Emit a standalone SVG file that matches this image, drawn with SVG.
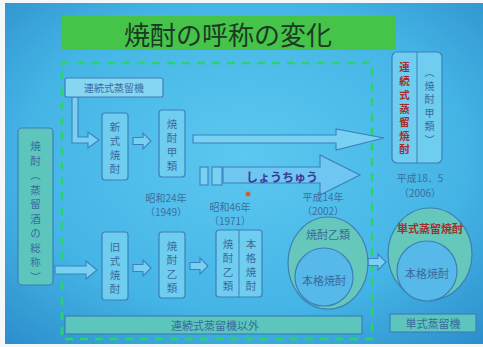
<svg xmlns="http://www.w3.org/2000/svg" width="483" height="347" viewBox="0 0 483 347">
<defs>
<radialGradient id="bg" cx="0.5" cy="0.45" r="0.75">
<stop offset="0" stop-color="#5cc8f0"/>
<stop offset="0.6" stop-color="#45b5e6"/>
<stop offset="1" stop-color="#2b8dcb"/>
</radialGradient>
<style>
text{font-family:"Noto Sans CJK JP","Noto Sans",sans-serif;}
.box{fill:#6fcdf0;stroke:#3d7fb9;stroke-width:1.2;}
.teal{fill:#5cc6bc;stroke:#3d7fb9;stroke-width:1.2;}
.arr{fill:#78d0f2;stroke:#3d80bb;stroke-width:1.1;stroke-linejoin:miter;}
.t{fill:#3a6a9c;font-size:11px;text-anchor:middle;dominant-baseline:central;}
.c{fill:#3a6a9c;font-size:10.5px;text-anchor:middle;dominant-baseline:central;}
.yr{fill:#3f6e9e;font-size:10px;text-anchor:middle;dominant-baseline:central;}
.red{fill:#a03030;font-size:11px;font-weight:bold;text-anchor:middle;dominant-baseline:central;}
.rc{fill:#a03030;font-size:10.5px;font-weight:bold;text-anchor:middle;dominant-baseline:central;}
.dash{fill:none;stroke:#29d56a;stroke-width:2.5;stroke-dasharray:8 7;}
</style>
</defs>
<rect x="0" y="0" width="483" height="347" fill="#f4f8fa"/>
<rect x="5" y="3" width="478" height="341" fill="url(#bg)"/>

<g id="title">
<rect x="62" y="16" width="334" height="34" fill="#46c44a"/>
<text x="228" y="33" font-size="26" fill="#1b3a24" text-anchor="middle" dominant-baseline="central">焼酎の呼称の変化</text>
</g>

<rect class="dash" x="62" y="63" width="310" height="276"/>

<g id="connectors">
<polygon class="arr" points="72,97 78,97 78,137 88,137 88,132 99,140 88,148 88,143 72,143"/>
<polygon class="arr" points="133,137.5 143,137.5 143,133 151,141 143,149 143,144.5 133,144.5"/>
<polygon class="arr" points="193,135 336,135 336,129 384,138 336,150 336,143 193,143"/>
<polygon class="arr" points="55,266 86,266 86,261 97,270 86,279 86,274 55,274"/>
<polygon class="arr" points="133,264.5 143,264.5 143,260 151,268 143,276 143,271.5 133,271.5"/>
<polygon class="arr" points="190,262.5 200,262.5 200,258 208,266 200,274 200,269.5 190,269.5"/>
<polygon class="arr" points="368,258.5 378,258.5 378,254 386,262 378,270 378,265.5 368,265.5"/>
<rect class="arr" x="200" y="167" width="8" height="18"/>
<rect class="arr" x="212" y="167" width="10" height="18"/>
<polygon points="223,167 320,167 320,155 360,175 320,195 320,183 223,183" fill="#6fc6f0" stroke="#3d80bb" stroke-width="1.1"/>
<text x="282" y="176" font-size="12" font-weight="bold" fill="#3a3a9e" text-anchor="middle" dominant-baseline="central">しょうちゅう</text>
<circle cx="248" cy="194" r="2.5" fill="#d0603a"/>
</g>

<g id="renzoku-ki">
<rect class="box" x="65" y="78" width="98" height="19" rx="2" style="fill:#86d6f2"/>
<text class="t" x="114" y="87.5" style="font-size:10px">連続式蒸留機</text>
</g>

<g id="shochu-all">
<rect class="teal" x="18" y="128" width="35" height="157" rx="4"/>
<text class="c"><tspan x="35.5" y="145">焼</tspan><tspan x="35.5" y="159.5">酎</tspan><tspan x="35.5" y="174">︵</tspan><tspan x="35.5" y="188.5">蒸</tspan><tspan x="35.5" y="203">留</tspan><tspan x="35.5" y="217.5">酒</tspan><tspan x="35.5" y="232">の</tspan><tspan x="35.5" y="246.5">総</tspan><tspan x="35.5" y="261">称</tspan><tspan x="35.5" y="275.5">︶</tspan></text>
</g>

<g id="shinshiki">
<rect class="box" x="102" y="113" width="26" height="67" rx="3"/>
<text class="c"><tspan x="115" y="126">新</tspan><tspan x="115" y="140">式</tspan><tspan x="115" y="154">焼</tspan><tspan x="115" y="168">酎</tspan></text>
</g>

<g id="kourui">
<rect class="box" x="159" y="110" width="26" height="67" rx="3"/>
<text class="c"><tspan x="172" y="123">焼</tspan><tspan x="172" y="137">酎</tspan><tspan x="172" y="151">甲</tspan><tspan x="172" y="165">類</tspan></text>
</g>

<g id="kyushiki">
<rect class="box" x="102" y="232" width="26" height="68" rx="3"/>
<text class="c"><tspan x="115" y="246">旧</tspan><tspan x="115" y="260">式</tspan><tspan x="115" y="274">焼</tspan><tspan x="115" y="288">酎</tspan></text>
</g>

<g id="otsurui">
<rect class="box" x="159" y="232" width="26" height="66" rx="3"/>
<text class="c"><tspan x="172" y="245">焼</tspan><tspan x="172" y="259">酎</tspan><tspan x="172" y="273">乙</tspan><tspan x="172" y="287">類</tspan></text>
</g>

<g id="otsu-honkaku">
<rect class="box" x="216" y="230" width="46" height="67" rx="3"/>
<line x1="239" y1="230" x2="239" y2="297" stroke="#3d7fb9" stroke-width="1"/>
<text class="c"><tspan x="228" y="243">焼</tspan><tspan x="228" y="257">酎</tspan><tspan x="228" y="271">乙</tspan><tspan x="228" y="285">類</tspan></text>
<text class="c"><tspan x="251" y="243">本</tspan><tspan x="251" y="257">格</tspan><tspan x="251" y="271">焼</tspan><tspan x="251" y="285">酎</tspan></text>
</g>

<g id="years">
<text class="yr" x="166" y="197">昭和24年</text>
<text class="yr" x="166" y="211.5">（1949）</text>
<text class="yr" x="230" y="206">昭和46年</text>
<text class="yr" x="230" y="220.5">（1971）</text>
<text class="yr" x="323" y="196">平成14年</text>
<text class="yr" x="323" y="210.5">（2002）</text>
<text class="yr" x="420" y="177">平成18．5</text>
<text class="yr" x="420" y="192">（2006）</text>
</g>

<g id="circle2002">
<ellipse cx="328" cy="263" rx="40" ry="46" fill="#66c8bb" stroke="#3d7fb9" stroke-width="1.2"/>
<circle cx="324" cy="277" r="29" fill="#56b9e9" stroke="#3d7fb9" stroke-width="1.2"/>
<text class="t" x="328" y="234">焼酎乙類</text>
<text class="t" x="324" y="280">本格焼酎</text>
</g>

<g id="renzoku-shochu">
<rect class="box" x="392" y="52" width="50" height="111" rx="5"/>
<line x1="417" y1="52" x2="417" y2="163" stroke="#3d7fb9" stroke-width="1"/>
<text class="rc"><tspan x="404.5" y="66">連</tspan><tspan x="404.5" y="80">続</tspan><tspan x="404.5" y="94">式</tspan><tspan x="404.5" y="107.5">蒸</tspan><tspan x="404.5" y="121">留</tspan><tspan x="404.5" y="134.5">焼</tspan><tspan x="404.5" y="148">酎</tspan></text>
<text class="c" style="font-size:10px"><tspan x="429.5" y="71">︵</tspan><tspan x="429.5" y="84.5">焼</tspan><tspan x="429.5" y="98">酎</tspan><tspan x="429.5" y="111.5">甲</tspan><tspan x="429.5" y="125">類</tspan><tspan x="429.5" y="138.5">︶</tspan></text>
</g>

<g id="circle2006">
<ellipse cx="430" cy="254" rx="42" ry="46" fill="#66c8bb" stroke="#3d7fb9" stroke-width="1.2"/>
<circle cx="427" cy="271" r="30" fill="#56b9e9" stroke="#3d7fb9" stroke-width="1.2"/>
<text class="red" x="430" y="228">単式蒸留焼酎</text>
<text class="t" x="427" y="273">本格焼酎</text>
</g>

<g id="bar-other">
<rect class="teal" x="65" y="316" width="297" height="18"/>
<text class="t" x="215" y="325">連続式蒸留機以外</text>
</g>

<g id="bar-tanshiki">
<rect class="teal" x="390" y="314" width="86" height="18"/>
<text class="t" x="433" y="323">単式蒸留機</text>
</g>
</svg>
